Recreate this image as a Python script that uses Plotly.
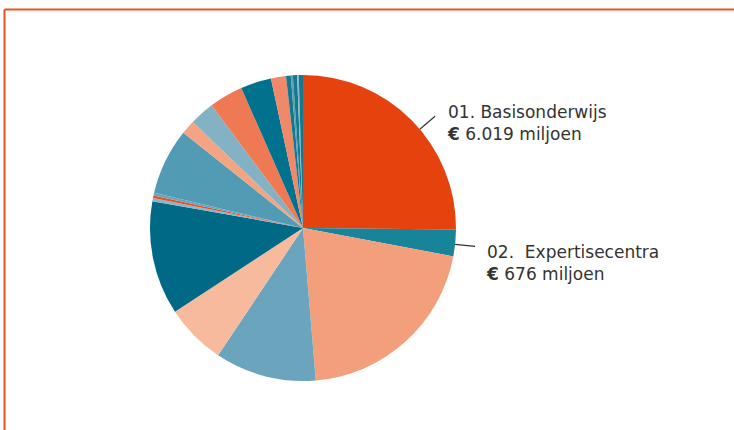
import math
import plotly.graph_objects as go

# begroting per artikel (miljoen euro), volgorde met de klok mee vanaf 12 uur
chapters = [
    "01. Basisonderwijs", "02. Expertisecentra", "03. Voortgezet onderwijs",
    "04. Beroepsonderwijs en volwasseneneducatie", "05. Hoger beroepsonderwijs",
    "06. Wetenschappelijk onderwijs", "07. Internationaal beleid",
    "08. Arbeidsmarkt- en personeelsbeleid", "09. Lesgelden",
    "10. Studiefinanciering", "11. Tegemoetkoming onderwijsbijdrage en schoolkosten",
    "12. Cultuur", "13. Media", "14. Onderzoek en wetenschapsbeleid",
    "15. Apparaatsuitgaven", "16. Emancipatie", "17. Nominaal en onvoorzien",
    "18. Archieven", "19. Erfgoed", "20. Overige",
]
amounts = [6019, 676, 4954, 2560, 1536, 2880, 80, 66, 66, 1676,
           359, 625, 858, 778, 379, 120, 53, 106, 40, 106]
slice_colors = [
    "#E5420E", "#17849A", "#F39F7B", "#6BA4BD", "#F8BA9C", "#006986",
    "#8AB6C8", "#E8501E", "#6BA4BD", "#529BB5", "#F4A482", "#82B2C4",
    "#EE7952", "#00728E", "#F0886A", "#13798F", "#5E9DB4", "#13798F",
    "#8AB6C8", "#13798F",
]
callouts = {
    0: "01. Basisonderwijs<br><b>€</b> 6.019 miljoen",
    1: "02.\u00a0 Expertisecentra<br><b>€</b> 676 miljoen",
}

W, H = 734, 430
cx, cy, r = 303, 228, 153
accent = "#E9531F"

fig = go.Figure(go.Pie(
    labels=chapters,
    values=amounts,
    sort=False,
    direction="clockwise",
    rotation=0,
    textinfo="none",
    hovertemplate="%{label}<br>€ %{value} miljoen<extra></extra>",
    marker=dict(colors=slice_colors, line=dict(width=0)),
    domain=dict(x=[(cx - r) / W, (cx + r) / W], y=[1 - (cy + r) / H, 1 - (cy - r) / H]),
    showlegend=False,
))

total = sum(amounts)
text_pos = {0: (445, 123), 1: (484, 263)}
start = 0
for i, v in enumerate(amounts):
    if i in callouts:
        a = math.radians((start + 0.55 * v) / total * 360)
        x0, y0 = cx + r * math.sin(a), cy - r * math.cos(a)
        x1, y1 = cx + (r + 20) * math.sin(a), cy - (r + 20) * math.cos(a)
        fig.add_shape(type="line", xref="paper", yref="paper",
                      x0=x0 / W, y0=1 - y0 / H, x1=x1 / W, y1=1 - y1 / H,
                      line=dict(color="#333333", width=1.2))
        tx, ty = text_pos[i]
        fig.add_annotation(x=tx / W, y=1 - ty / H, xref="paper", yref="paper",
                           text=callouts[i], showarrow=False, align="left",
                           xanchor="left", yanchor="middle",
                           font=dict(family="DejaVu Sans", size=17, color="#333333"))
    start += v

# kader links en boven
fig.add_shape(type="line", xref="paper", yref="paper", x0=4.5 / W, x1=4.5 / W,
              y0=0, y1=1 - 9.5 / H, line=dict(color=accent, width=2))
fig.add_shape(type="line", xref="paper", yref="paper", x0=4.5 / W, x1=1,
              y0=1 - 9.5 / H, y1=1 - 9.5 / H, line=dict(color=accent, width=2))

fig.update_layout(
    width=W, height=H, autosize=False,
    margin=dict(l=0, r=0, t=0, b=0),
    paper_bgcolor="white", plot_bgcolor="white",
)
fig.write_html("out.html", config={"displayModeBar": False},
               post_script="document.body.style.margin='0';document.body.style.overflow='hidden';")
